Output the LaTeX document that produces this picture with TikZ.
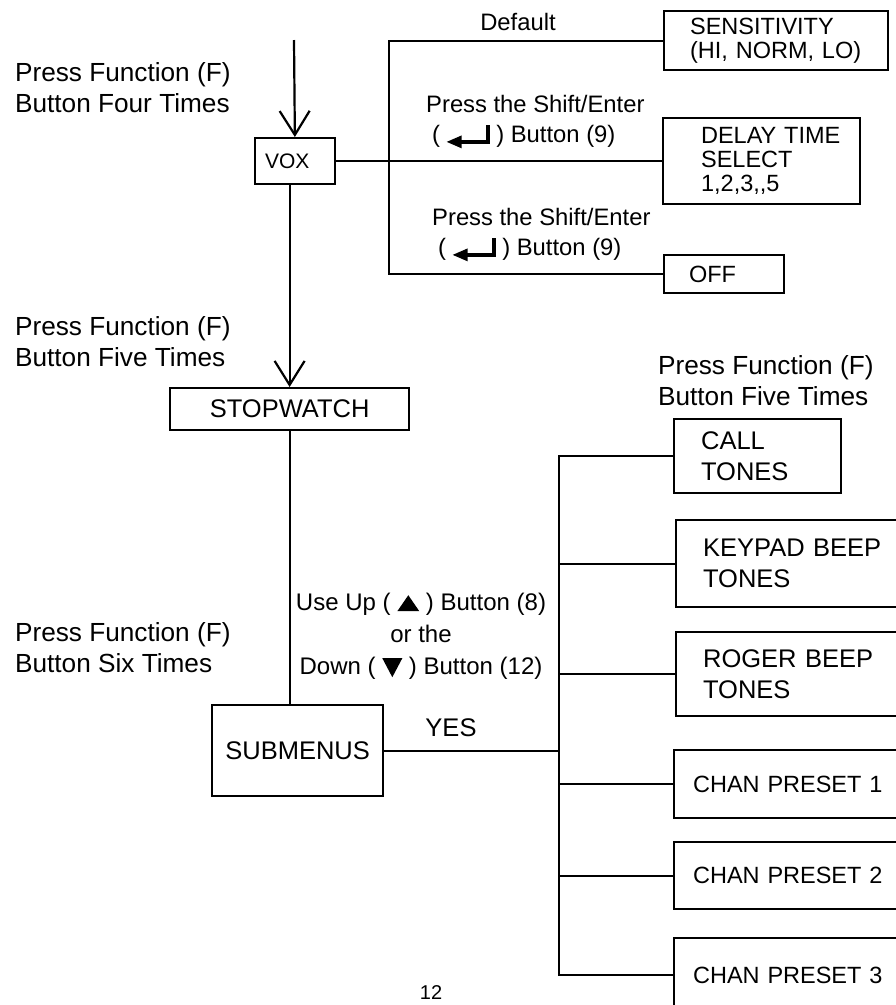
\documentclass[tikz,border=0pt]{standalone}
\usepackage{fontspec}
\setmainfont{Liberation Sans}
\usepackage{tikz}
\usetikzlibrary{arrows.meta}

\newcommand{\enterkey}{\tikz[baseline=0pt,x=1pt,y=1pt]{\fill (0,1) -- (15,7.5) -- (15,-5.5) -- cycle; \fill (13,-1) rectangle (43,3); \fill (39,-1) rectangle (43,18);}}
\newcommand{\uptri}{\tikz[baseline=0pt,x=1pt,y=1pt]\fill (0,-1) -- (22,-1) -- (11,15) -- cycle;}
\newcommand{\downtri}{\tikz[baseline=0pt,x=1pt,y=1pt]\fill (0,16) -- (20,16) -- (10,-3) -- cycle;}

\begin{document}
\begin{tikzpicture}[x=1pt,y=-1pt,line width=2.2pt,
  box/.style={draw,rectangle,anchor=north west,align=left,inner ysep=0pt,font=\fontsize{25.5}{31}\selectfont},
  smallbox/.style={box,font=\fontsize{23.5}{24}\selectfont},
  note/.style={align=left,inner sep=0pt,font=\fontsize{26.2}{31}\selectfont},
  hint/.style={align=left,inner sep=0pt,font=\fontsize{23.8}{30}\selectfont},
  flow/.style={-{Straight Barb[length=24pt,width=30pt]}}]
\useasboundingbox (0,0) rectangle (896,1005);
\clip (0,0) rectangle (896,1005);
% left column
\node[box,inner xsep=10pt,text width=60pt,minimum height=46pt,font=\fontsize{21}{24}\selectfont] (vox) at (254,137) {VOX};
\node[box,align=center,inner xsep=0pt,text width=239pt,minimum height=42pt] (stop) at (169,387) {STOPWATCH};
\node[box,align=center,inner xsep=0pt,text width=171pt,minimum height=91pt] (sub) at (211,704) {SUBMENUS};
% VOX settings
\node[smallbox,inner xsep=26pt,text width=172pt,minimum height=59pt] (sens) at (663,10) {SENSITIVITY\\(HI, NORM, LO)};
\node[smallbox,inner xsep=38pt,text width=121pt,minimum height=86pt] (delay) at (662,117) {DELAY~TIME\\SELECT\\1,2,3,{},5};
\node[smallbox,inner xsep=25pt,text width=70pt,minimum height=38pt] (off) at (663,254) {OFF};
% submenus
\node[box,inner xsep=27pt,text width=113pt,minimum height=74pt] (call) at (673,418) {CALL\\TONES};
\node[box,inner xsep=27pt,text width=190pt,minimum height=87pt] (key) at (675,519) {KEYPAD BEEP\\TONES};
\node[box,inner xsep=27pt,text width=190pt,minimum height=84pt] (roger) at (675,631) {ROGER BEEP\\TONES};
\node[smallbox,inner xsep=19pt,text width=200pt,minimum height=68pt] (ch1) at (673,749) {CHAN PRESET 1};
\node[smallbox,inner xsep=19pt,text width=200pt,minimum height=67pt] (ch2) at (673,841) {CHAN PRESET 2};
\node[smallbox,inner xsep=19pt,text width=200pt,minimum height=74pt] (ch3) at (673,937) {CHAN PRESET 3};
% labels
\node[note,anchor=west] (four) at (14,88) {Press Function (F)\\Button Four Times};
\node[note,anchor=west] (five) at (14,342) {Press Function (F)\\Button Five Times};
\node[note,anchor=west] (six) at (14,648) {Press Function (F)\\Button Six Times};
\node[note,anchor=west] (tones) at (657,381) {Press Function (F)\\Button Five Times};
\node[hint] (dflt) at (518,22) {Default};
\node[hint,anchor=west] (shift1) at (426,122) {Press the Shift/Enter\\\hspace*{6pt}( \enterkey\ ) Button (9)};
\node[hint,anchor=west] (shift2) at (432,235) {Press the Shift/Enter\\\hspace*{6pt}( \enterkey\ ) Button (9)};
\node[hint,align=center,font=\fontsize{24}{32}\selectfont] (updown) at (421,636) {Use Up ( \uptri\ ) Button (8)\\or the\\Down ( \downtri\ ) Button (12)};
\node[note,font=\fontsize{25.5}{31}\selectfont] (yes) at (451,728) {YES};
\node[note,font=\fontsize{20}{24}\selectfont] (pg) at (431,993) {12};
% connectors
\coordinate (vtop) at (294,40);
\coordinate (vbus) at (389,156);
\coordinate (rbus) at (559,752);
\draw[flow] (vtop) -- (vox);
\draw[flow] (vox.south -| stop.north) -- (stop.north);
\draw (stop.south) -- (stop.south |- sub.north);
\draw (vox.east) -- (vox.east -| delay.west);
\draw (sens.west) -| (vbus) |- (off.west);
\draw (sub.east) -- (sub.east -| rbus);
\draw (call.west) -| (rbus) |- (ch3.west);
\foreach \n in {key,roger,ch1,ch2}
  \draw (\n.west) -- (\n.west -| rbus);
\end{tikzpicture}
\end{document}
